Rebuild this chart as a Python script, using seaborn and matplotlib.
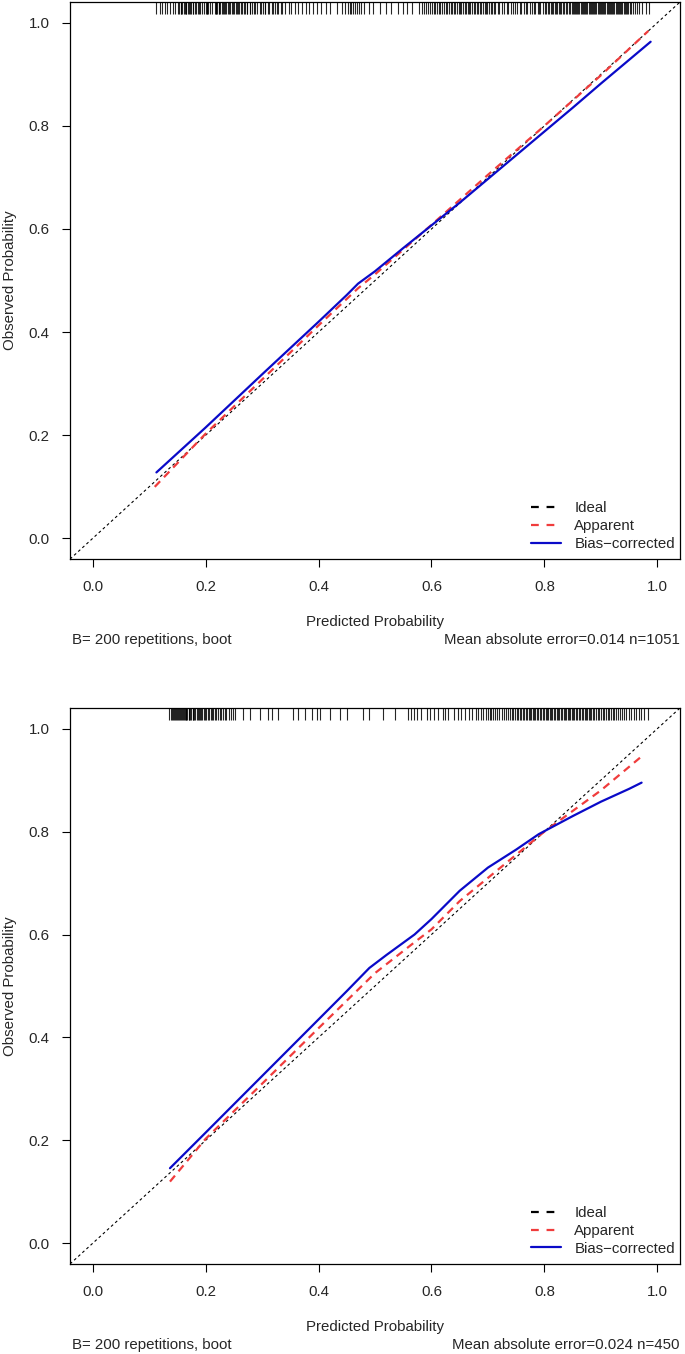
import matplotlib
matplotlib.use("Agg")
import matplotlib.pyplot as plt
from matplotlib.lines import Line2D
import numpy as np
import seaborn as sns

# calibration curves (predicted -> observed)
top_apparent_x = [0.11, 0.20, 0.30, 0.40, 0.47, 0.50, 0.60, 0.70, 0.80, 0.90, 0.984]
top_apparent_y = [0.100, 0.203, 0.308, 0.413, 0.485, 0.512, 0.608, 0.705, 0.800, 0.898, 0.984]
top_bias_x = [0.113, 0.20, 0.30, 0.40, 0.45, 0.47, 0.50, 0.55, 0.60, 0.65, 0.70, 0.75, 0.80, 0.85, 0.90, 0.95, 0.988]
top_bias_y = [0.128, 0.215, 0.318, 0.420, 0.472, 0.494, 0.518, 0.563, 0.607, 0.651, 0.697, 0.743, 0.789, 0.835, 0.882, 0.928, 0.963]

bot_apparent_x = [0.137, 0.20, 0.30, 0.40, 0.50, 0.57, 0.60, 0.65, 0.70, 0.75, 0.80, 0.85, 0.90, 0.972]
bot_apparent_y = [0.120, 0.203, 0.310, 0.418, 0.525, 0.585, 0.610, 0.665, 0.710, 0.755, 0.800, 0.840, 0.880, 0.946]
bot_bias_x = [0.137, 0.20, 0.30, 0.40, 0.45, 0.49, 0.52, 0.57, 0.60, 0.65, 0.70, 0.75, 0.79, 0.85, 0.90, 0.95, 0.972]
bot_bias_y = [0.146, 0.215, 0.325, 0.435, 0.490, 0.535, 0.560, 0.600, 0.630, 0.685, 0.730, 0.765, 0.795, 0.830, 0.858, 0.883, 0.895]

# rug of predicted probabilities (thousandths), estimated from the tick density
top_rug = [112, 119, 123, 128, 131, 137, 142, 146,
           151, 153, 156, 157, 159, 162, 163, 165, 166, 169, 170, 172, 174, 177, 178, 181, 183, 186, 188, 190, 194, 197,
           200, 202, 203, 205, 208, 211, 216, 218, 219, 221, 223, 224, 226, 229, 230, 232, 235, 237, 239, 242, 244, 246, 248,
           251, 254, 256, 257, 260, 263, 265, 268, 270, 273, 274, 278, 279, 283, 285, 288, 291, 296, 298,
           301, 305, 306, 310, 313, 317, 319, 323, 327, 329, 334, 336, 341, 347,
           352, 358, 363, 371, 377, 384, 391, 397,
           405, 414, 421, 433, 441, 447,
           452, 455, 458, 461, 464, 468, 472, 476, 481, 489, 497,
           508, 519, 528, 541, 549,
           557, 566, 578, 583, 586, 590, 594, 597,
           601, 604, 607, 609, 613, 615, 618, 622, 625, 628, 631, 634, 637, 640, 642, 645, 648,
           651, 653, 656, 659, 661, 664, 667, 669, 672, 675, 677, 680, 683, 686, 688, 691, 694, 697, 699,
           702, 705, 708, 710, 713, 717, 719, 724, 728, 733, 736, 741, 745, 748,
           752, 756, 758, 763, 767, 769, 774, 778, 781, 784, 788, 791, 793, 797,
           801, 803, 806, 808, 811, 813, 816, 818, 821, 823, 826, 828, 830, 833, 835, 838, 840, 843, 845, 848,
           850, 852, 854, 856, 858, 860, 862, 864, 866, 868, 870, 872, 874, 876, 878, 880, 882, 884, 886, 888, 890, 892, 894, 896, 898,
           900, 902, 904, 906, 908, 910, 912, 914, 916, 918, 920, 922, 924, 926, 928, 930, 932, 934, 936, 938, 940, 942, 944, 946, 948,
           951, 954, 957, 961, 964, 968, 973, 979, 986]
bot_rug = [136, 139, 141, 143, 145, 146, 148, 150, 151, 153, 155, 156, 158, 160, 161, 163, 165, 166, 168, 170, 171,
           173, 175, 177, 178, 180, 182, 184, 186, 188, 190, 192, 194, 197, 199, 201, 204, 206, 209, 211, 214, 216, 219,
           222, 225, 228, 231, 234, 237, 241, 245, 249, 253,
           266, 278, 296, 310, 317, 328, 355, 363, 376, 388, 397, 402, 420, 438, 450, 479, 490, 514, 535, 559,
           563, 569, 575, 582, 592, 598, 605, 612, 620, 624, 630, 640, 647, 653, 660, 667, 672, 678, 683, 688,
           692, 696, 700, 703, 706, 709, 712, 716, 720, 724,
           728, 732, 736, 739, 742, 745, 748, 751, 754, 757, 759, 762, 764, 767, 769, 772, 774, 777, 779, 782,
           784, 787, 789, 792, 794, 797, 799, 802, 804, 807, 809, 812, 814, 817, 819, 822, 824, 826, 829, 831,
           834, 836, 839, 841, 843, 846, 848, 851, 853, 856, 858, 861, 863, 866, 868, 871, 873, 876, 878, 881,
           883, 886, 888, 891, 894, 897, 900, 903, 906, 909, 912, 915, 918, 921, 924, 927, 930, 934, 937, 941,
           945, 949, 953, 958, 962, 967, 971, 976, 983]

footers = [("B= 200 repetitions, boot", "Mean absolute error=0.014 n=1051"),
           ("B= 200 repetitions, boot", "Mean absolute error=0.024 n=450")]
ticks = [0.0, 0.2, 0.4, 0.6, 0.8, 1.0]
tick_labels = ["0.0", "0.2", "0.4", "0.6", "0.8", "1.0"]

RED = "#f03c3c"
BLUE = "#0a0ac8"
FS = 10.8

sns.set_theme(style="white")
plt.rcParams["font.family"] = ["Liberation Sans", "DejaVu Sans"]


def draw_panel(ax, app_x, app_y, bias_x, bias_y, rug, footer):
    ax.axline((0, 0), (1, 1), color="black", lw=0.8, dashes=(2.5, 2.5))
    sns.lineplot(x=app_x, y=app_y, ax=ax, color=RED, lw=1.6, sort=False, estimator=None)
    ax.lines[-1].set_dashes((3.5, 2.5))
    sns.lineplot(x=bias_x, y=bias_y, ax=ax, color=BLUE, lw=1.6, sort=False, estimator=None)

    # rug along the top edge, like scat1d in R
    rug = np.array(rug) / 1000.0
    ax.vlines(rug, 1.017, 1.04, color="black", lw=0.8, alpha=0.85)

    ax.set_xlim(-0.04, 1.04)
    ax.set_ylim(-0.04, 1.04)
    ax.set_xticks(ticks)
    ax.set_xticklabels(tick_labels)
    ax.set_yticks(ticks)
    ax.set_yticklabels(tick_labels)
    ax.tick_params(direction="out", length=5.8, width=0.8, color="black",
                   labelsize=FS, pad=9, bottom=True, left=True)
    for s in ax.spines.values():
        s.set_color("black")
        s.set_linewidth(0.9)

    ax.set_xlabel("Predicted Probability", fontsize=FS)
    ax.xaxis.label.set_va("center")
    ax.xaxis.set_label_coords(0.5, -0.113)
    ax.set_ylabel("Observed Probability", fontsize=FS)
    ax.yaxis.label.set_va("center")
    ax.yaxis.set_label_coords(-0.098, 0.5)

    ax.text(0.003, -0.145, footer[0], transform=ax.transAxes, ha="left", va="center", fontsize=FS)
    ax.text(1.0, -0.145, footer[1], transform=ax.transAxes, ha="right", va="center", fontsize=FS)

    handles = [Line2D([], [], color="black", lw=1.6, dashes=(3.5, 3.5)),
               Line2D([], [], color=RED, lw=1.6, dashes=(3.5, 3.5)),
               Line2D([], [], color=BLUE, lw=1.6)]
    ax.legend(handles, ["Ideal", "Apparent", "Bias\u2212corrected"], loc="lower right",
              bbox_to_anchor=(1.009, -0.004), frameon=False, fontsize=FS,
              handlelength=2.0, handletextpad=0.9, labelspacing=0.25, borderpad=0.2)


fig = plt.figure(figsize=(6.85, 13.54), dpi=100)
ax1 = fig.add_axes([0.1022, 0.5871, 0.8905, 0.4114])
ax2 = fig.add_axes([0.1022, 0.0665, 0.8905, 0.4106])

draw_panel(ax1, top_apparent_x, top_apparent_y, top_bias_x, top_bias_y, top_rug, footers[0])
draw_panel(ax2, bot_apparent_x, bot_apparent_y, bot_bias_x, bot_bias_y, bot_rug, footers[1])

fig.savefig("out.png", dpi=100)
